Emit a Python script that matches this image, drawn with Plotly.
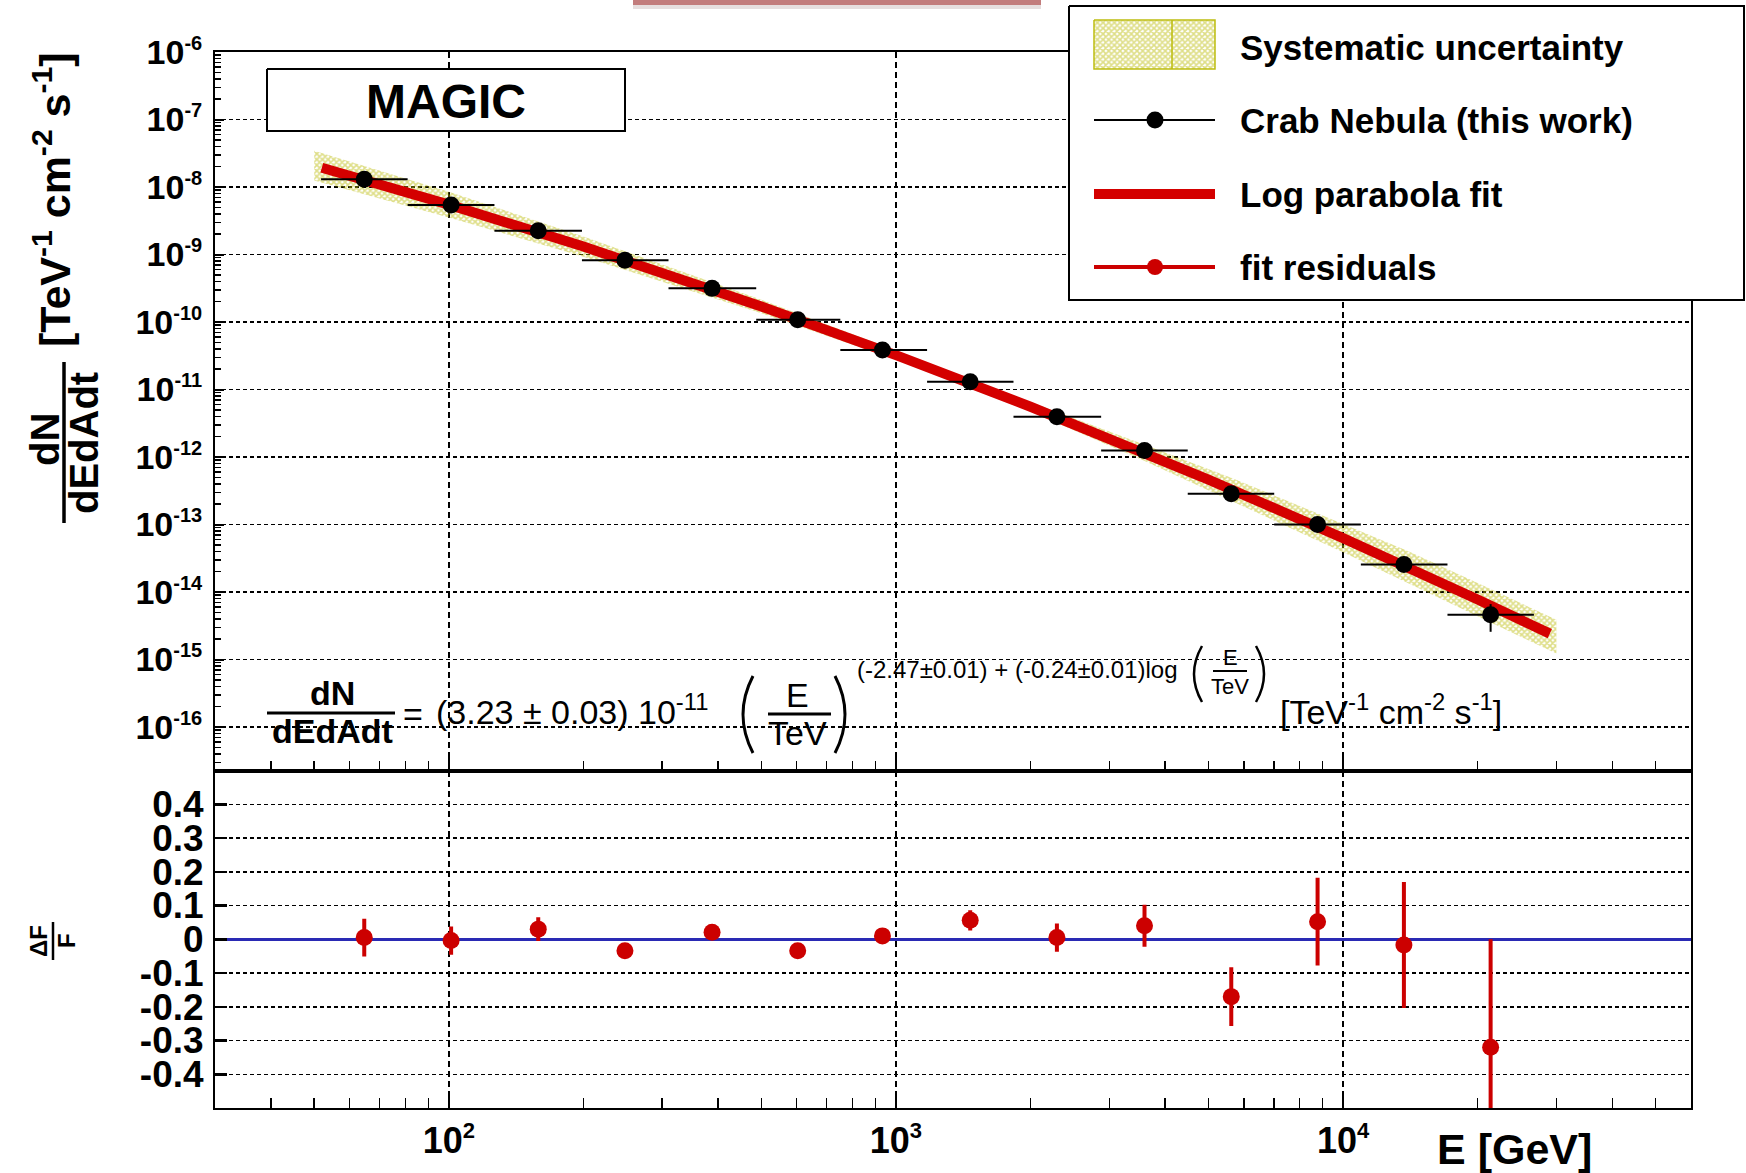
import math
import plotly.graph_objects as go

W, H = 1746, 1173
FONT = "Liberation Sans"

# ---------------- data ----------------
energy_gev = [64.7, 101.2, 158.5, 247.7, 388, 603, 933, 1466, 2291, 3597, 5623, 8770, 13680, 21380]
bin_low_gev = [51.8, 80.9, 126.5, 198.5, 310, 487, 751, 1174, 1832, 2877, 4494, 7015, 10960, 17120]
bin_high_gev = [80.9, 126.5, 198.5, 310, 487, 751, 1174, 1832, 2877, 4494, 7015, 10960, 17120, 26720]
flux = [1.3e-8, 5.4e-9, 2.25e-9, 8.2e-10, 3.15e-10, 1.08e-10, 3.85e-11, 1.3e-11,
        3.95e-12, 1.25e-12, 2.85e-13, 1.0e-13, 2.55e-14, 4.6e-15]
flux_rel_err = [0.05, 0.04, 0.03, 0.02, 0.015, 0.015, 0.015, 0.03, 0.04, 0.06, 0.09, 0.13, 0.18, 0.44]

residual = [0.005, -0.004, 0.03, -0.034, 0.021, -0.034, 0.01, 0.056, 0.005, 0.04, -0.17, 0.052, -0.017, -0.32]
residual_err = [0.056, 0.042, 0.035, 0.02, 0.015, 0.015, 0.015, 0.03, 0.042, 0.062, 0.087, 0.13, 0.187, 0.32]

fit_energy_gev = [52, 100, 200, 500, 1000, 2000, 5000, 10000, 20000, 29000]
fit_flux = [1.93e-8, 5.48e-9, 1.31e-9, 1.70e-10, 3.23e-11, 5.55e-12, 4.63e-13, 6.30e-14, 7.75e-15, 2.42e-15]

band_energy_gev = [50, 100, 200, 500, 1000, 2000, 3600, 5600, 10000, 14000, 20000, 30000]
band_upper = [3.44e-8, 8.50e-9, 1.855e-9, 2.14e-10, 3.79e-11, 6.52e-12, 1.517e-12, 4.975e-13,
              1.021e-13, 4.01e-14, 1.363e-14, 3.87e-15]
band_lower = [1.249e-8, 3.54e-9, 9.30e-10, 1.352e-10, 2.75e-11, 4.72e-12, 8.73e-13, 2.274e-13,
              3.88e-14, 1.327e-14, 4.41e-15, 1.223e-15]

flux_tick_exponents = [-16, -15, -14, -13, -12, -11, -10, -9, -8, -7, -6]
resid_ticks = [-0.4, -0.3, -0.2, -0.1, 0, 0.1, 0.2, 0.3, 0.4]
resid_tick_labels = ["-0.4", "-0.3", "-0.2", "-0.1", "0", "0.1", "0.2", "0.3", "0.4"]
energy_ticks = [100, 1000, 10000]
energy_tick_exponents = [2, 3, 4]

legend_labels = ["Systematic uncertainty", "Crab Nebula (this work)", "Log parabola fit", "fit residuals"]

# ---------------- styles ----------------
YEL = "#bdbd10"
RED_FIT = "#d40000"
RED_RES = "#cc0000"
BLUE = "#2a2ab4"

X_DOM = [215 / W, 1691 / W]
TOP_DOM = [1 - 770.5 / H, 1 - 52 / H]
BOT_DOM = [1 - 1108 / H, 1 - 770.5 / H]
X_RANGE = [math.log10(30), math.log10(60000)]


def pow_label(e, sup_px):
    return f"10<sup><span style='font-size:{sup_px}px'>{e}</span></sup>"


fig = go.Figure()

# systematic band
fig.add_trace(go.Scatter(
    x=band_energy_gev + band_energy_gev[::-1],
    y=band_upper + band_lower[::-1],
    mode="lines", fill="toself", line=dict(width=0, color=YEL),
    fillcolor="rgba(0,0,0,0)",
    fillpattern=dict(shape="x", fgcolor=YEL, bgcolor="rgba(255,255,255,0)", size=4, solidity=0.65),
    xaxis="x", yaxis="y", hoverinfo="skip"))

# fit
fig.add_trace(go.Scatter(x=fit_energy_gev, y=fit_flux, mode="lines",
                         line=dict(color=RED_FIT, width=10), xaxis="x", yaxis="y"))

# data points
fig.add_trace(go.Scatter(
    x=energy_gev, y=flux, mode="markers",
    marker=dict(color="black", size=17),
    error_x=dict(type="data", symmetric=False,
                 array=[h - e for h, e in zip(bin_high_gev, energy_gev)],
                 arrayminus=[e - l for e, l in zip(energy_gev, bin_low_gev)],
                 color="black", thickness=2, width=0),
    error_y=dict(type="data", array=[f * r for f, r in zip(flux, flux_rel_err)],
                 color="black", thickness=2, width=0),
    xaxis="x", yaxis="y"))

# residuals
fig.add_trace(go.Scatter(
    x=energy_gev, y=residual, mode="markers",
    marker=dict(color=RED_RES, size=17),
    error_y=dict(type="data", array=residual_err, color=RED_RES, thickness=4, width=0),
    xaxis="x2", yaxis="y2"))

# ---------------- decorations (pixel overlay axes) ----------------
def deco(xs, ys, color="black", width=2, fill=None, fillcolor=None, mode="lines", marker=None, pattern=None):
    kw = dict(x=xs, y=ys, mode=mode, line=dict(color=color, width=width),
              xaxis="x3", yaxis="y3", hoverinfo="skip", cliponaxis=False)
    if fill:
        kw["fill"] = fill
        kw["fillcolor"] = fillcolor
    if marker:
        kw["marker"] = marker
    if pattern:
        kw["fillpattern"] = pattern
    fig.add_trace(go.Scatter(**kw))


def rect(x0, y0, x1, y1, **kw):
    deco([x0, x1, x1, x0, x0], [y0, y0, y1, y1, y0], fill="toself", **kw)


# pink bar at top (slide artifact)
rect(633, 5, 1041, 9, color="rgba(0,0,0,0)", width=0, fillcolor="#e6dede")
rect(633, 0, 1041, 5, color="rgba(0,0,0,0)", width=0, fillcolor="#c27c7c")

# MAGIC box
rect(267, 69, 625, 131, color="black", width=2, fillcolor="white")

# legend box
rect(1069, 6, 1744, 300, color="black", width=2, fillcolor="white")
rect(1094, 20, 1215, 69, color=YEL, width=1.5, fillcolor="rgba(0,0,0,0)",
     pattern=dict(shape="x", fgcolor=YEL, bgcolor="white", size=4, solidity=0.65))
deco([1172, 1172], [20, 69], color=YEL, width=1.5)
deco([1094, 1215], [120, 120], color="black", width=2)
deco([1155], [120], mode="markers", marker=dict(color="black", size=17))
deco([1094, 1215], [194, 194], color=RED_FIT, width=10)
deco([1094, 1215], [267, 267], color=RED_RES, width=4)
deco([1155], [267], mode="markers", marker=dict(color=RED_RES, size=16))

# fraction bars
deco([267, 395], [713, 713], width=3)          # dN / dEdAdt in formula
deco([768, 831], [714, 714], width=3)          # E / TeV
deco([1213, 1247], [671, 671], width=2)        # small E / TeV
deco([64, 64], [362, 523], width=3.5)          # y title fraction
deco([53, 53], [922, 960], width=2.5)          # dF/F

shapes = []


def paren(x_end, x_mid, y0, y1, width):
    ym = (y0 + y1) / 2
    shapes.append(dict(type="path", xref="x3", yref="y3",
                       path=f"M {x_end},{y0} Q {x_mid},{ym} {x_end},{y1}",
                       line=dict(color="black", width=width)))


paren(753, 733, 676, 753, 3)
paren(835, 855, 676, 753, 3)
paren(1202, 1186, 646, 702, 2.5)
paren(1256, 1272, 646, 702, 2.5)

annotations = []


def txt(x, y, s, size, bold=False, xanchor="center", yanchor="middle", angle=0):
    annotations.append(dict(
        x=x, y=y, xref="x3", yref="y3", text=s, showarrow=False,
        xanchor=xanchor, yanchor=yanchor, textangle=angle,
        font=dict(family=FONT, size=size, color="black", weight="bold" if bold else "normal")))


# legend texts
for lbl, yy in zip(legend_labels, [47, 120, 194, 267]):
    txt(1238, yy, lbl, 35, bold=True, xanchor="left")

txt(446, 101, "MAGIC", 48, bold=True)

# formula
txt(332, 693, "dN", 34, bold=True)
txt(332, 731, "dEdAdt", 34, bold=True)
txt(413, 714, "=", 34)
txt(434, 709, "(3.23 ± 0.03) 10<sup>-11</sup>", 34, xanchor="left")
txt(797, 695, "E", 34)
txt(797, 733, "TeV", 34)
txt(855, 669, "(-2.47±0.01) + (-0.24±0.01)log", 24, xanchor="left")
txt(1230, 657, "E", 22)
txt(1230, 686, "TeV", 22)
txt(1278, 709, "[TeV<sup>-1</sup> cm<sup>-2</sup> s<sup>-1</sup>]", 34, xanchor="left")

# y titles
txt(52, 200, "[TeV<sup>-1</sup> cm<sup>-2</sup> s<sup>-1</sup>]", 43, bold=True, angle=-90)
txt(45, 440, "dN", 40, bold=True, angle=-90)
txt(84, 443, "dEdAdt", 40, bold=True, angle=-90)
txt(38, 941, "ΔF", 24, bold=True, angle=-90)
txt(66, 941, "F", 24, bold=True, angle=-90)

# x title
txt(1514, 1149, "E [GeV]", 43, bold=True)

# ---------------- axes ----------------
tick_font_y = dict(family=FONT, size=34, color="black", weight="bold")
tick_font_x = dict(family=FONT, size=36, color="black", weight="bold")
tick_font_res = dict(family=FONT, size=37, color="black", weight="bold")

x_common = dict(type="log", range=X_RANGE, domain=X_DOM, showline=True, mirror=True,
                linecolor="black", linewidth=2, ticks="inside", ticklen=15, tickwidth=2,
                tickcolor="black", tickmode="array", tickvals=energy_ticks,
                showgrid=True, gridcolor="black", gridwidth=1.5, griddash="6px,4px",
                zeroline=False, fixedrange=True, automargin=False,
                minor=dict(ticks="inside", ticklen=10, tickwidth=1.5, tickcolor="black",
                           dtick="D1", showgrid=False))

fig.update_layout(
    width=W, height=H,
    margin=dict(l=0, r=0, t=0, b=0, autoexpand=False),
    paper_bgcolor="white", plot_bgcolor="rgba(0,0,0,0)",
    showlegend=False,
    font=dict(family=FONT, color="black"),
    xaxis=dict(**x_common, anchor="y", showticklabels=False),
    yaxis=dict(type="log", range=[-16.644, -6], domain=TOP_DOM, anchor="x",
               showline=True, mirror=True, linecolor="black", linewidth=2,
               ticks="inside", ticklen=9, tickwidth=2, tickcolor="black",
               tickmode="array", tickvals=[10 ** e for e in flux_tick_exponents],
               ticktext=[pow_label(e, 20) for e in flux_tick_exponents],
               tickfont=tick_font_y, ticklabelstandoff=4, automargin=False,
               showgrid=True, gridcolor="black", gridwidth=1.5, griddash="4px,3px",
               zeroline=False, fixedrange=True,
               minor=dict(ticks="inside", ticklen=6, tickwidth=1.5, tickcolor="black",
                          dtick="D1", showgrid=False)),
    xaxis2=dict(**x_common, anchor="y2", showticklabels=True,
                ticktext=[pow_label(e, 22) for e in energy_tick_exponents],
                tickfont=tick_font_x, ticklabelstandoff=0),
    yaxis2=dict(range=[-0.5, 0.5], domain=BOT_DOM, anchor="x2",
                showline=True, mirror=True, linecolor="black", linewidth=2,
                ticks="inside", ticklen=12, tickwidth=2.5, tickcolor="black",
                tickmode="array", tickvals=resid_ticks, ticktext=resid_tick_labels,
                tickfont=tick_font_res, ticklabelstandoff=2, automargin=False,
                showgrid=True, gridcolor="black", gridwidth=1.5, griddash="4px,3px",
                zeroline=True, zerolinecolor=BLUE, zerolinewidth=2.5, fixedrange=True),
    xaxis3=dict(domain=[0, 1], range=[0, W], visible=False, anchor="y3",
                fixedrange=True, automargin=False),
    yaxis3=dict(domain=[0, 1], range=[H, 0], visible=False, anchor="x3",
                fixedrange=True, automargin=False),
    annotations=annotations,
    shapes=shapes,
)

fig.write_html("out.html", config={"displayModeBar": False, "staticPlot": True},
               post_script="document.body.style.margin='0';document.body.style.overflow='hidden';")
